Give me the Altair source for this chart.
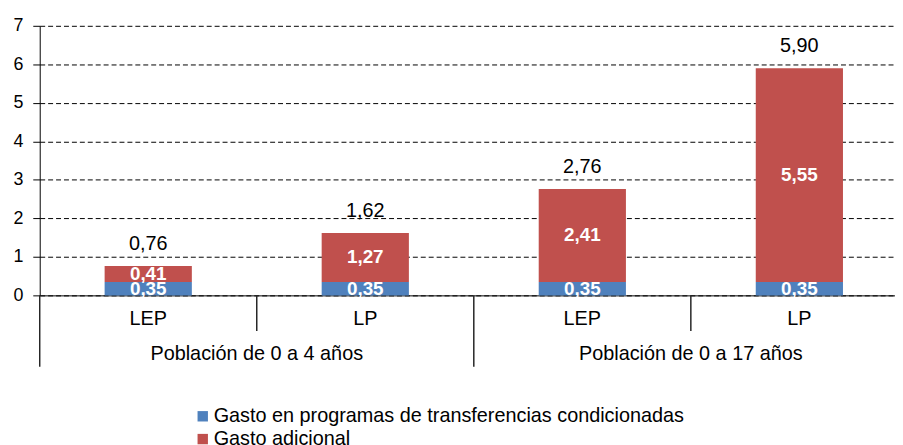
import altair as alt
import pandas as pd

# ---- data ----
keys = ["g1_LEP", "g1_LP", "g2_LEP", "g2_LP"]
cat_labels = ["LEP", "LP", "LEP", "LP"]
groups = ["Población de 0 a 4 años", "Población de 0 a 17 años"]
series = ["Gasto en programas de transferencias condicionadas", "Gasto adicional"]
base_vals = [0.35, 0.35, 0.35, 0.35]
extra_vals = [0.41, 1.27, 2.41, 5.55]
totals = [0.76, 1.62, 2.76, 5.90]
colors = ["#4F81BD", "#C0504D"]
y_ticks = [0, 1, 2, 3, 4, 5, 6, 7]

F = "Liberation Sans, Arial, sans-serif"


def fmt(v):
    return f"{v:.2f}".replace(".", ",")


rows = []
for i, k in enumerate(keys):
    rows.append(dict(key=k, series=series[0], order=0, value=base_vals[i], label=fmt(base_vals[i])))
    rows.append(dict(key=k, series=series[1], order=1, value=extra_vals[i], label=fmt(extra_vals[i])))
df = pd.DataFrame(rows)
tot_df = pd.DataFrame(dict(key=keys, total=totals, label=[fmt(t) for t in totals]))
cat_df = pd.DataFrame(dict(key=keys, label=cat_labels))
grp_df = pd.DataFrame(dict(key=[keys[0], keys[2]], label=groups))
sep_short = pd.DataFrame(dict(key=[keys[0], keys[2]]))
sep_long = pd.DataFrame(dict(key=[keys[1]]))
one = pd.DataFrame(dict(a=[0]))

W = 863
H = 272
xscale = alt.Scale(domain=keys, range=[0, 876], paddingInner=0, paddingOuter=0)
yscale = alt.Scale(domain=[0, 7], nice=False)
SEP = "#262626"

XAXIS = alt.Axis(labels=False, ticks=False, title=None, grid=False,
                 domainColor="black", domainWidth=1)
YAXIS = alt.Axis(values=y_ticks, title=None, grid=True, gridDash=[5, 3],
                 gridColor="#000000", gridWidth=1, domainColor="black",
                 tickColor="black", tickSize=7, labelPadding=10,
                 labelOverlap=False, labelFont=F, labelFontSize=18,
                 labelColor="black")


def X(**kw):
    return alt.X("key:N", scale=xscale, axis=XAXIS, **kw)


def Y(field, **kw):
    return alt.Y(field, scale=yscale, axis=YAXIS, **kw)


bars = alt.Chart(df).mark_bar(size=88).encode(
    x=X(),
    y=Y("value:Q", stack="zero"),
    color=alt.Color("series:N", scale=alt.Scale(domain=series, range=colors),
                    legend=alt.Legend(orient="none", legendX=154.5, legendY=384, title=None,
                                      symbolType="square", symbolSize=110, symbolStrokeWidth=0,
                                      labelFont=F, labelFontSize=20, labelColor="black",
                                      labelOffset=1, rowPadding=3, padding=0,
                                      labelLimit=1000)),
    order=alt.Order("order:Q"),
)

seg = alt.Chart(df).transform_stack(
    stack="value", as_=["y0", "y1"], groupby=["key"],
    sort=[alt.SortField("order", order="ascending")]
).transform_calculate(mid="(datum.y0 + datum.y1) / 2").mark_text(
    color="white", fontWeight="bold", fontSize=19, font=F, baseline="middle"
).encode(x=X(), y=Y("mid:Q"), text="label:N")

tot = alt.Chart(tot_df).mark_text(
    color="black", fontSize=20, font=F, baseline="alphabetic", dy=-16
).encode(x=X(), y=Y("total:Q"), text="label:N")

cats = alt.Chart(cat_df).mark_text(
    color="black", fontSize=20, font=F, baseline="middle"
).encode(x=X(), y=alt.value(H + 24), text="label:N")

grps = alt.Chart(grp_df).mark_text(
    color="black", fontSize=20, font=F, baseline="middle"
).encode(x=X(bandPosition=1), y=alt.value(H + 59), text="label:N")

short_rules = alt.Chart(sep_short).mark_rule(color=SEP, strokeWidth=1.5).encode(
    x=X(bandPosition=1), y=alt.value(H), y2=alt.value(H + 36))
long_rules = alt.Chart(sep_long).mark_rule(color=SEP, strokeWidth=1.5).encode(
    x=X(bandPosition=1), y=alt.value(H), y2=alt.value(H + 72))
left_rule = alt.Chart(one).mark_rule(color=SEP, strokeWidth=1.5).encode(
    x=alt.value(0), y=alt.value(H), y2=alt.value(H + 72))

chart = alt.layer(bars, seg, tot, cats, grps, short_rules, long_rules, left_rule).properties(
    width=W, height=H,
    background="white",
    autosize=alt.AutoSizeParams(type="none"),
    padding={"left": 32, "top": 16, "right": 0, "bottom": 149},
).configure_view(stroke=None)

chart.save("out.html", embed_options={"renderer": "svg", "actions": False})
